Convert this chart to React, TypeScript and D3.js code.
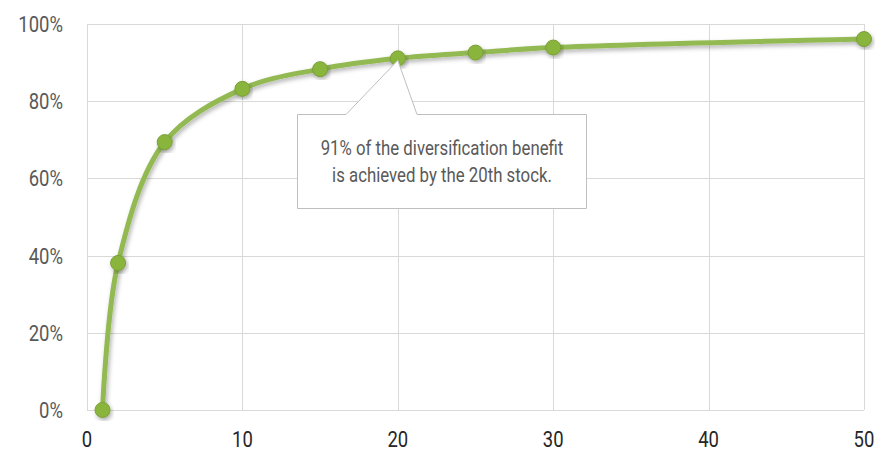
import React, { useEffect, useRef } from "react";
import * as d3 from "d3";

// number of stocks held vs share of diversification benefit reached
const stocks = [1, 2, 5, 10, 15, 20, 25, 30, 50];
const benefit = [0, 0.381, 0.694, 0.832, 0.883, 0.911, 0.926, 0.939, 0.961];
const xTicks = [0, 10, 20, 30, 40, 50];
const yTicks = [0, 0.2, 0.4, 0.6, 0.8, 1];
const calloutLines = ["91% of the diversification benefit", "is achieved by the 20th stock."];
const calloutStock = 20;

const W = 890;
const H = 452;
const FONT = "Roboto, 'Liberation Sans', sans-serif";
const SQUEEZE = 0.84;

const App = () => {
  const ref = useRef<SVGSVGElement | null>(null);

  useEffect(() => {
    const svg = d3.select(ref.current);
    svg.selectAll("*").remove();

    const margin = { top: 24, right: 26, bottom: 42, left: 87 };
    const x = d3.scaleLinear().domain([0, 50]).range([margin.left, W - margin.right]);
    const y = d3.scaleLinear().domain([0, 1]).range([H - margin.bottom, margin.top]);

    const defs = svg.append("defs");
    const f = defs
      .append("filter")
      .attr("id", "shadow")
      .attr("x", "-20%")
      .attr("y", "-20%")
      .attr("width", "140%")
      .attr("height", "140%");
    f.append("feDropShadow")
      .attr("dx", 1.5)
      .attr("dy", 2.5)
      .attr("stdDeviation", 2)
      .attr("flood-color", "#000")
      .attr("flood-opacity", 0.3);

    // grid
    const grid = svg.append("g");
    grid
      .selectAll("line.h")
      .data(yTicks)
      .join("line")
      .attr("x1", x(0))
      .attr("x2", x(50))
      .attr("y1", (d) => Math.round(y(d)) + 0.5)
      .attr("y2", (d) => Math.round(y(d)) + 0.5)
      .attr("stroke", "#d9d9d9")
      .attr("stroke-width", 1);
    grid
      .selectAll("line.v")
      .data(xTicks)
      .join("line")
      .attr("y1", y(0))
      .attr("y2", y(1))
      .attr("x1", (d) => Math.round(x(d)) + 0.5)
      .attr("x2", (d) => Math.round(x(d)) + 0.5)
      .attr("stroke", "#d9d9d9")
      .attr("stroke-width", 1);

    // axis labels (condensed look via horizontal squeeze)
    svg
      .append("g")
      .selectAll("text")
      .data(yTicks)
      .join("text")
      .attr("transform", (d) => `translate(63,${y(d)}) scale(${SQUEEZE},1)`)
      .attr("dy", "0.36em")
      .attr("text-anchor", "end")
      .attr("font-family", FONT)
      .attr("font-size", 22)
      .attr("fill", "#595959")
      .text((d) => d3.format(".0%")(d));

    svg
      .append("g")
      .selectAll("text")
      .data(xTicks)
      .join("text")
      .attr("transform", (d) => `translate(${x(d)},439) scale(${SQUEEZE},1)`)
      .attr("dy", "0.36em")
      .attr("text-anchor", "middle")
      .attr("font-family", FONT)
      .attr("font-size", 22)
      .attr("fill", "#262626")
      .text((d) => d);

    const pts = stocks.map((s, i) => [s, benefit[i]] as [number, number]);

    const line = d3
      .line<[number, number]>()
      .x((d) => x(d[0]))
      .y((d) => y(d[1]))
      .curve(d3.curveCatmullRom.alpha(0.5));

    svg
      .append("path")
      .datum(pts)
      .attr("d", line)
      .attr("fill", "none")
      .attr("stroke", "#93b953")
      .attr("stroke-width", 5)
      .attr("stroke-linecap", "round")
      .attr("filter", "url(#shadow)");

    svg
      .append("g")
      .selectAll("circle")
      .data(pts)
      .join("circle")
      .attr("cx", (d) => x(d[0]))
      .attr("cy", (d) => y(d[1]))
      .attr("r", 7.5)
      .attr("fill", "#8ab53e")
      .attr("stroke", "#7a9f36")
      .attr("stroke-width", 1)
      .attr("filter", "url(#shadow)");

    // callout
    const tipX = x(calloutStock);
    const tipY = y(benefit[stocks.indexOf(calloutStock)]) + 2;
    const bx0 = 297.5, bx1 = 586.5, by0 = 114.5, by1 = 208.5;
    const p = d3.path();
    p.moveTo(bx0, by0);
    p.lineTo(346, by0);
    p.lineTo(tipX, tipY);
    p.lineTo(417, by0);
    p.lineTo(bx1, by0);
    p.lineTo(bx1, by1);
    p.lineTo(bx0, by1);
    p.closePath();
    svg
      .append("path")
      .attr("d", p.toString())
      .attr("fill", "#fff")
      .attr("stroke", "#bfbfbf")
      .attr("stroke-width", 1);

    svg
      .append("g")
      .selectAll("text")
      .data(calloutLines)
      .join("text")
      .attr("transform", (_, i) => `translate(${(bx0 + bx1) / 2},${155 + i * 27}) scale(${SQUEEZE},1)`)
      .attr("text-anchor", "middle")
      .attr("font-family", FONT)
      .attr("font-size", 20)
      .attr("fill", "#595959")
      .text((d) => d);
  }, []);

  return (
    <svg
      ref={ref}
      width={W}
      height={H}
      style={{ position: "absolute", left: 0, top: 0, background: "#fff" }}
    />
  );
};

export default App;
